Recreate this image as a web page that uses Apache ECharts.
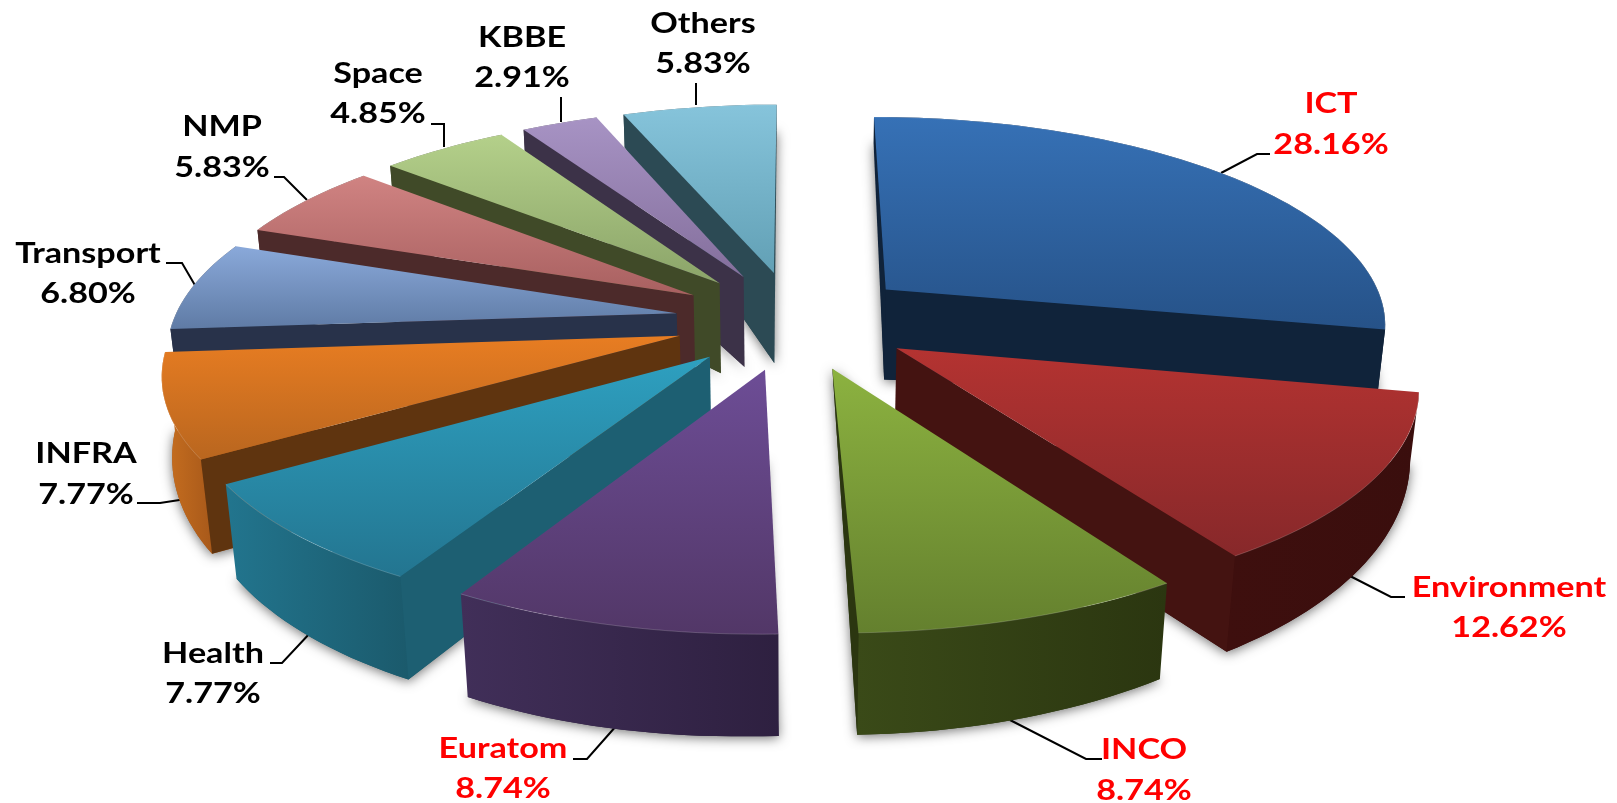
<!DOCTYPE html>
<html>
<head>
<meta charset="utf-8">
<title>Exploded pie</title>
<script src="https://cdn.jsdelivr.net/npm/echarts@6/dist/echarts.min.js"></script>
<style>
  html, body { margin: 0; padding: 0; background: #fff; }
  #main { width: 1617px; height: 803px; }
</style>
</head>
<body>
<div id="main"></div>
<script>
  // values, clockwise from 12 o'clock
  var categories = ['ICT', 'Environment', 'INCO', 'Euratom', 'Health', 'INFRA', 'Transport', 'NMP', 'Space', 'KBBE', 'Others'];
  var shares = [28.16, 12.62, 8.74, 8.74, 7.77, 7.77, 6.80, 5.83, 4.85, 2.91, 5.83];
  var highlighted = ['ICT', 'Environment', 'INCO', 'Euratom'];

  // [top face light, top face dark, outer wall a, outer wall b, side wall]
  var palette = {
    ICT: ['#3671b6', '#265288', '#10233a', '#10233a', '#10233a'],
    Environment: ['#b43331', '#87282a', '#3e0f0e', '#3a0e0d', '#441311'],
    INCO: ['#8cb240', '#64802e', '#3a4a18', '#2b3610', '#2b3610'],
    Euratom: ['#6d4d96', '#523767', '#412f59', '#2e2040', '#2e2040'],
    Health: ['#2ea0c0', '#237590', '#22758e', '#1b5a6c', '#1d5f72'],
    INFRA: ['#e87d22', '#b9661f', '#c97020', '#a8591a', '#5f340f'],
    Transport: ['#8aa9da', '#5f7ba5', '#28324a', '#28324a', '#28324a'],
    NMP: ['#d08382', '#a86060', '#4c2a2a', '#4c2a2a', '#4c2a2a'],
    Space: ['#b4d08a', '#8ba469', '#404a28', '#404a28', '#404a28'],
    KBBE: ['#a793c4', '#846f9c', '#3c3248', '#3c3248', '#3c3248'],
    Others: ['#86c4db', '#62a0b5', '#2c4a54', '#2c4a54', '#2c4a54']
  };

  // label centres [x, line 1 y, line 2 y] and leader polylines, in page pixels
  var labelLayout = {
    ICT: [1331, 104, 145],
    Environment: [1509, 588, 628],
    INCO: [1144, 750, 791],
    Euratom: [503, 749, 789],
    Health: [213, 654, 694],
    INFRA: [86, 454, 495],
    Transport: [88, 254, 294],
    NMP: [222, 127, 168],
    Space: [378, 74, 114],
    KBBE: [522, 38, 78],
    Others: [703, 24, 64]
  };
  var leaderLayout = {
    ICT: [[1270, 154], [1257, 154], [1221, 173]],
    Environment: [[1405, 597], [1391, 597], [1350, 576]],
    INCO: [[1102, 759], [1086, 759], [1010, 720]],
    Euratom: [[573, 759], [587, 759], [617, 725]],
    Health: [[270, 663], [282, 663], [311, 632]],
    INFRA: [[137, 503], [160, 503], [186, 499]],
    Transport: [[166, 263], [182, 263], [196, 287]],
    NMP: [[274, 177], [284, 177], [307, 200]],
    Space: [[431, 124], [444, 124], [444, 147]],
    KBBE: [[561, 97], [561, 122]],
    Others: [[696, 83], [696, 105]]
  };

  // camera of the fake 3d pie
  var CX = 795, CY = 320, RADIUS = 503, EXPLODE = 120;
  var TILT = 0.412, CAMERA = 3300, CENTER_DEPTH = 90;

  function rad(deg) { return deg * Math.PI / 180; }

  function project(x, y) {
    var p = 1 / (1 - y / CAMERA);
    return [CX + x * p, CY + TILT * y * p];
  }

  function rimDepth(deg) {
    return 64 - 38 * Math.cos(rad(deg)) - 12 * Math.min(0, Math.sin(rad(deg)));
  }

  function slicePoint(r, deg, midDeg) {
    var x = r * Math.sin(rad(deg)) + EXPLODE * Math.sin(rad(midDeg));
    var y = -r * Math.cos(rad(deg)) - EXPLODE * Math.cos(rad(midDeg));
    return project(x, y);
  }

  // bottom of a vertical edge, leaning a little towards the middle of the pie
  function below(pt, depth) {
    return [pt[0] + (CX - pt[0]) * depth * 0.0002, pt[1] + depth];
  }

  function gradient(x2, y2, c1, c2) {
    return {
      type: 'linear', x: 0, y: 0, x2: x2, y2: y2,
      colorStops: [{ offset: 0, color: c1 }, { offset: 1, color: c2 }]
    };
  }

  // cumulative share -> angle, through the library's own linear map
  var total = shares.reduce(function (a, b) { return a + b; }, 0);
  var sliceData = [];
  var running = 0;
  categories.forEach(function (name, i) {
    var from = echarts.number.linearMap(running, [0, total], [0, 360]);
    running += shares[i];
    var to = echarts.number.linearMap(running, [0, total], [0, 360]);
    sliceData.push({ name: name, value: [from, to, i] });
  });
  // far slices first so the near ones paint over them
  sliceData.sort(function (a, b) {
    var ma = (a.value[0] + a.value[1]) / 2, mb = (b.value[0] + b.value[1]) / 2;
    return Math.cos(rad(mb)) - Math.cos(rad(ma));
  });

  function renderSlice(params, api) {
    var from = api.value(0), to = api.value(1);
    var name = categories[api.value(2)];
    var mid = (from + to) / 2;
    var colors = palette[name];
    var apex = slicePoint(0, 0, mid);
    var apexLow = below(apex, CENTER_DEPTH);

    var rim = [], rimLow = [];
    var steps = Math.max(4, Math.ceil((to - from) / 1.5));
    for (var i = 0; i <= steps; i++) {
      var deg = from + (to - from) * i / steps;
      var pt = slicePoint(RADIUS, deg, mid);
      rim.push(pt);
      rimLow.push(below(pt, rimDepth(deg)));
    }
    var first = 0, last = rim.length - 1;
    var children = [];

    // edges seen almost end on only show as a thin sliver
    var farSliver = Math.abs(Math.sin(rad(from))) < 0.02 && Math.cos(rad(from)) > 0;
    var nearSliver = Math.abs(Math.sin(rad(to))) < 0.05 && Math.cos(rad(to)) < 0;

    // base face, only there to throw the soft shadow
    children.push({
      type: 'polygon',
      shape: { points: [nearSliver ? apex : apexLow].concat(rimLow) },
      style: { fill: colors[3], shadowBlur: 12, shadowColor: 'rgba(0,0,0,0.55)', shadowOffsetX: 0, shadowOffsetY: 2 }
    });

    // outer wall
    children.push({
      type: 'polygon',
      shape: { points: rim.concat(rimLow.slice().reverse()) },
      style: { fill: gradient(1, 0, colors[2], colors[3]) }
    });

    // radial walls that face the viewer
    if (Math.sin(rad(from)) < -0.3) {
      children.push({
        type: 'polygon',
        shape: { points: [apex, rim[first], rimLow[first], apexLow] },
        style: { fill: colors[4] }
      });
    }
    if (Math.sin(rad(to)) > 0.3) {
      children.push({
        type: 'polygon',
        shape: { points: [apex, rim[last], rimLow[last], apexLow] },
        style: { fill: colors[4] }
      });
    }
    if (farSliver) {
      children.push({
        type: 'polygon',
        shape: { points: [rim[first], apex, apexLow] },
        style: { fill: colors[4] }
      });
    }
    if (nearSliver) {
      children.push({
        type: 'polygon',
        shape: { points: [apex, rim[last], rimLow[last]] },
        style: { fill: colors[4] }
      });
    }

    // top face
    children.push({
      type: 'polygon',
      shape: { points: [apex].concat(rim) },
      style: { fill: gradient(0, 1, colors[0], colors[1]) }
    });
    // thin lit edge along the rim
    children.push({
      type: 'polyline',
      shape: { points: rim },
      style: { fill: null, stroke: 'rgba(255,255,255,0.18)', lineWidth: 1 }
    });

    return { type: 'group', children: children };
  }

  function renderLeader(params, api) {
    var name = categories[api.value(0)];
    return {
      type: 'polyline',
      shape: { points: leaderLayout[name] },
      style: { fill: null, stroke: '#000', lineWidth: 2 }
    };
  }

  function renderLabel(params, api) {
    var idx = api.value(0);
    var name = categories[idx];
    var pos = labelLayout[name];
    var color = highlighted.indexOf(name) >= 0 ? '#ff0000' : '#000000';
    var font = 'bold 28px Lato, "Open Sans", sans-serif';
    function line(text, y) {
      return {
        type: 'text', x: pos[0], y: y, scaleX: 1.22,
        style: { text: text, fill: color, font: font, textAlign: 'center', textVerticalAlign: 'middle', verticalAlign: 'middle' }
      };
    }
    return {
      type: 'group',
      children: [line(name, pos[1]), line(shares[idx].toFixed(2) + '%', pos[2])]
    };
  }

  var indexData = categories.map(function (c, i) { return [i]; });

  var option = {
    backgroundColor: '#ffffff',
    animation: false,
    tooltip: { show: false },
    series: [
      { type: 'custom', name: 'leaders', coordinateSystem: 'none', z: 1, silent: true, renderItem: renderLeader, data: indexData },
      { type: 'custom', name: 'slices', coordinateSystem: 'none', z: 2, silent: true, renderItem: renderSlice, data: sliceData },
      { type: 'custom', name: 'labels', coordinateSystem: 'none', z: 3, silent: true, renderItem: renderLabel, data: indexData }
    ]
  };

  var myChart = echarts.init(document.getElementById('main'));
  myChart.setOption(option);
</script>
</body>
</html>
